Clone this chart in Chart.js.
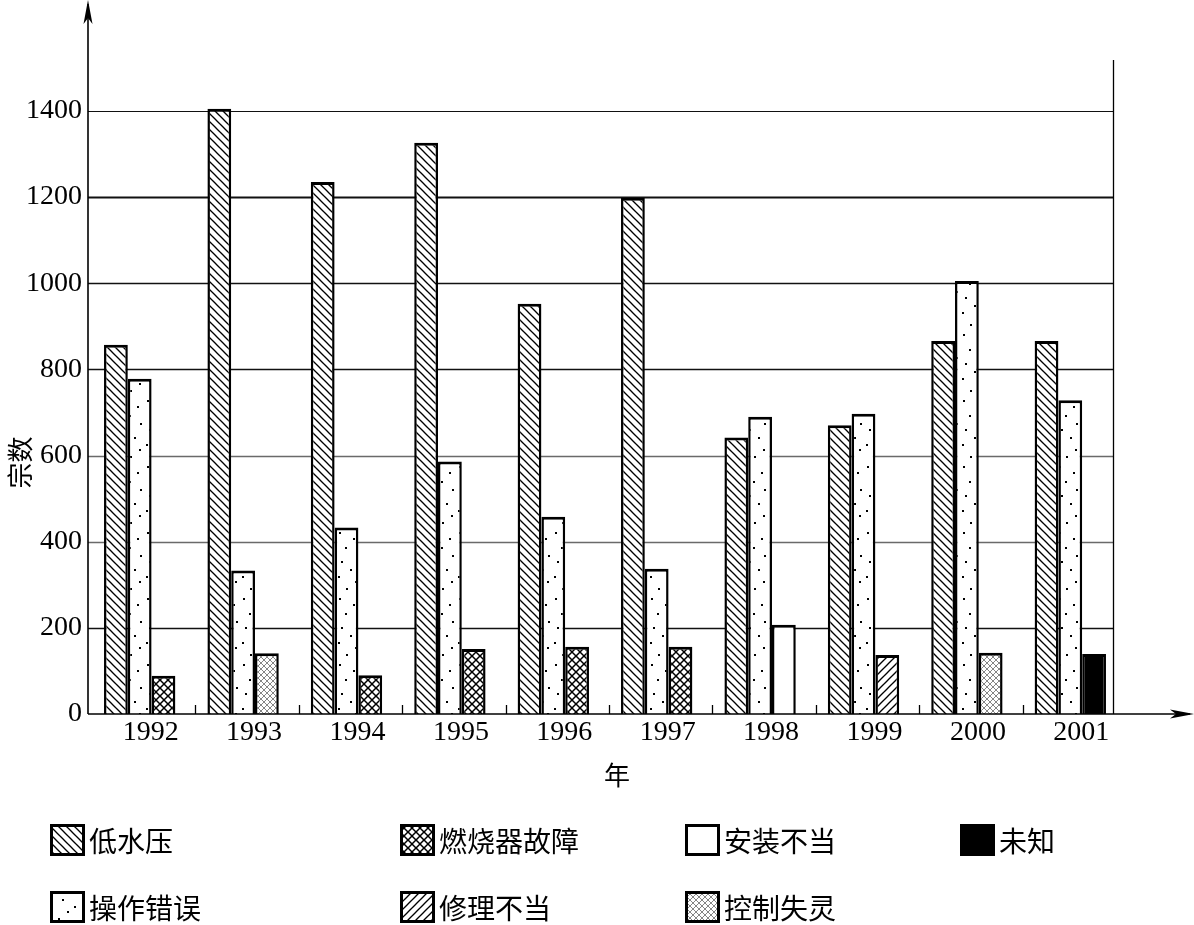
<!DOCTYPE html>
<html><head><meta charset="utf-8">
<script src="https://cdn.jsdelivr.net/npm/chart.js@4.4.1/dist/chart.umd.min.js"></script>
<style>html,body{margin:0;padding:0;background:#fff;}canvas{display:block;}</style>
</head><body>
<canvas id="c" width="1194" height="925"></canvas>
<script>
// ---- data ----
const years = ['1992','1993','1994','1995','1996','1997','1998','1999','2000','2001'];
const lowPressure   = [857,1405,1235,1326,952,1198,642,670,866,866];
const operatorError = [778,333,433,586,458,337,690,697,1005,728];
const otherCause    = [89,141,90,151,156,156,207,137,142,139];
const otherCauseType = ['燃烧器故障','控制失灵','燃烧器故障','燃烧器故障','燃烧器故障','燃烧器故障','安装不当','修理不当','控制失灵','未知'];
const legendRow1 = ['低水压','燃烧器故障','安装不当','未知'];
const legendRow2 = ['操作错误','修理不当','控制失灵'];
const yMin = 0, yMax = 1518, yStep = 200, yTickTop = 1400;
const xTitle = '年', yTitle = '宗数';

// ---- patterns ----
function tile(w,h){const c=document.createElement('canvas');c.width=w;c.height=h;const g=c.getContext('2d');g.fillStyle='#fff';g.fillRect(0,0,w,h);return [c,g];}
function diag(g,s,dir,color,lw){
  g.strokeStyle=color;g.lineWidth=lw;
  for(let k=-1;k<=1;k++){
    g.beginPath();
    if(dir>0){g.moveTo(-1,-1+k*s);g.lineTo(s+1,s+1+k*s);}
    else{g.moveTo(-1,s+1+k*s);g.lineTo(s+1,-1+k*s);}
    g.stroke();
  }
}
const ctx0=document.getElementById('c').getContext('2d');
function makePattern(kind){
  let c,g;
  switch(kind){
    case '低水压': [c,g]=tile(8,8); diag(g,8,1,'#000',1.3); break;
    case '修理不当': [c,g]=tile(8,8); diag(g,8,-1,'#000',1.3); break;
    case '燃烧器故障': [c,g]=tile(8,8); diag(g,8,1,'#000',1.5); diag(g,8,-1,'#000',1.5); break;
    case '控制失灵': [c,g]=tile(6,6); diag(g,6,1,'#666',0.8); diag(g,6,-1,'#666',0.8); break;
    case '操作错误': {
      [c,g]=tile(24,66); g.fillStyle='#000';
      const dots=[[3,4],[17,10],[9,19],[20,27],[5,33],[14,41],[2,48],[19,53],[10,60]];
      dots.forEach(d=>g.fillRect(d[0],d[1],2,2)); break;
    }
    case '安装不当': [c,g]=tile(4,4); break;
    case '未知': [c,g]=tile(4,4); g.fillStyle='#000'; g.fillRect(0,0,4,4); break;
  }
  return ctx0.createPattern(c,'repeat');
}
const P={};
['低水压','操作错误','燃烧器故障','修理不当','控制失灵','安装不当','未知'].forEach(k=>P[k]=makePattern(k));

const numFont = "'Liberation Serif', 'Times New Roman', serif";
const cjkFont = "'Noto Sans CJK SC', sans-serif";

const deco = {
  id:'deco',
  beforeDatasetsDraw(chart){
    const {ctx, chartArea:a, scales:{y}} = chart;
    const rightX = a.right - 9;
    ctx.save();
    y.ticks.forEach(t=>{
      if(t.value===0) return;
      const yy = Math.round(y.getPixelForValue(t.value))+0.5;
      const gray = (t.value===400||t.value===600);
      ctx.strokeStyle = gray ? '#6a6a6a' : '#111';
      ctx.lineWidth = t.value===1200 ? 2 : (t.value===1400 ? 1.2 : 1.5);
      ctx.beginPath(); ctx.moveTo(a.left, yy); ctx.lineTo(rightX, yy); ctx.stroke();
    });
    ctx.strokeStyle='#000'; ctx.lineWidth=1.3;
    ctx.beginPath(); ctx.moveTo(rightX+0.5, a.top); ctx.lineTo(rightX+0.5, a.bottom); ctx.stroke();
    ctx.restore();
  },
  afterDatasetsDraw(chart){
    const {ctx, chartArea:a, scales:{x}} = chart;
    const W = chart.width;
    ctx.save();
    ctx.strokeStyle='#000'; ctx.fillStyle='#000'; ctx.lineWidth=1.6;
    ctx.beginPath(); ctx.moveTo(a.left, a.bottom); ctx.lineTo(a.left, 4); ctx.stroke();
    ctx.beginPath(); ctx.moveTo(a.left, 0); ctx.lineTo(a.left-4.5, 24); ctx.lineTo(a.left, 18); ctx.lineTo(a.left+4.5, 24); ctx.closePath(); ctx.fill();
    ctx.beginPath(); ctx.moveTo(a.left, a.bottom); ctx.lineTo(W-4, a.bottom); ctx.stroke();
    ctx.beginPath(); ctx.moveTo(W, a.bottom); ctx.lineTo(W-24, a.bottom-4.5); ctx.lineTo(W-18, a.bottom); ctx.lineTo(W-24, a.bottom+4.5); ctx.closePath(); ctx.fill();
    ctx.lineWidth=1.3;
    for(let i=1;i<years.length;i++){
      const px = Math.round((x.getPixelForValue(i-1)+x.getPixelForValue(i))/2)+4.5;
      ctx.beginPath(); ctx.moveTo(px, a.bottom); ctx.lineTo(px, a.bottom-9); ctx.stroke();
    }
    ctx.restore();
  },
  afterDraw(chart){
    const {ctx, chartArea:a} = chart;
    ctx.save();
    ctx.fillStyle='#000';
    ctx.font = "26px "+cjkFont;
    ctx.textAlign='center'; ctx.textBaseline='middle';
    ctx.fillText(xTitle, (a.left+a.right)/2+12, a.bottom+61);
    ctx.translate(20, chart.height/2); ctx.rotate(-Math.PI/2);
    ctx.fillText(yTitle, 0, 0);
    ctx.restore();
    const colX=[50,400,685,960], rowTop=[824,891], sw=35, sh=32;
    ctx.save();
    ctx.font = "28px "+cjkFont; ctx.textBaseline='middle'; ctx.textAlign='left';
    [legendRow1, legendRow2].forEach((row,r)=>{
      row.forEach((lab,cI)=>{
        const x0=colX[cI], y0=rowTop[r];
        ctx.fillStyle=P[lab]; ctx.fillRect(x0,y0,sw,sh);
        ctx.strokeStyle='#000'; ctx.lineWidth=3; ctx.strokeRect(x0+1.5,y0+1.5,sw-3,sh-3);
        ctx.fillStyle='#000'; ctx.fillText(lab, x0+sw+4, y0+sh/2+1);
      });
    });
    ctx.restore();
  }
};

new Chart(document.getElementById('c'), {
  type:'bar',
  data:{ labels: years, datasets:[
    {label:'低水压', data: lowPressure, backgroundColor: P['低水压']},
    {label:'操作错误', data: operatorError, backgroundColor: P['操作错误']},
    {label:'其他原因', data: otherCause, backgroundColor: otherCauseType.map(t=>P[t])}
  ]},
  options:{
    responsive:false, devicePixelRatio:1, animation:false,
    layout:{padding:{left:0, top:60, right:72, bottom:151}},
    plugins:{legend:{display:false}, tooltip:{enabled:false}},
    datasets:{bar:{borderColor:'#000', borderWidth:{top:3,left:2.5,right:2.5,bottom:0}, borderSkipped:false, categoryPercentage:0.69, barPercentage:1}},
    scales:{
      x:{ grid:{display:false, drawTicks:false}, border:{display:false},
          ticks:{font:{family:numFont, size:28}, color:'#000', padding:2, labelOffset:11, maxRotation:0, autoSkip:false},
          afterFit(s){ s.height=60; } },
      y:{ min:yMin, max:yMax, grid:{display:false, drawTicks:false}, border:{display:false},
          afterBuildTicks(s){ s.ticks = s.ticks.filter(t=>t.value<=yTickTop); },
          ticks:{stepSize:yStep, includeBounds:false, font:{family:numFont, size:28}, color:'#000', padding:6,
                 callback:(v)=>String(v)},
          afterFit(s){ s.width=88; } }
    }
  },
  plugins:[deco]
});
</script>
</body></html>
